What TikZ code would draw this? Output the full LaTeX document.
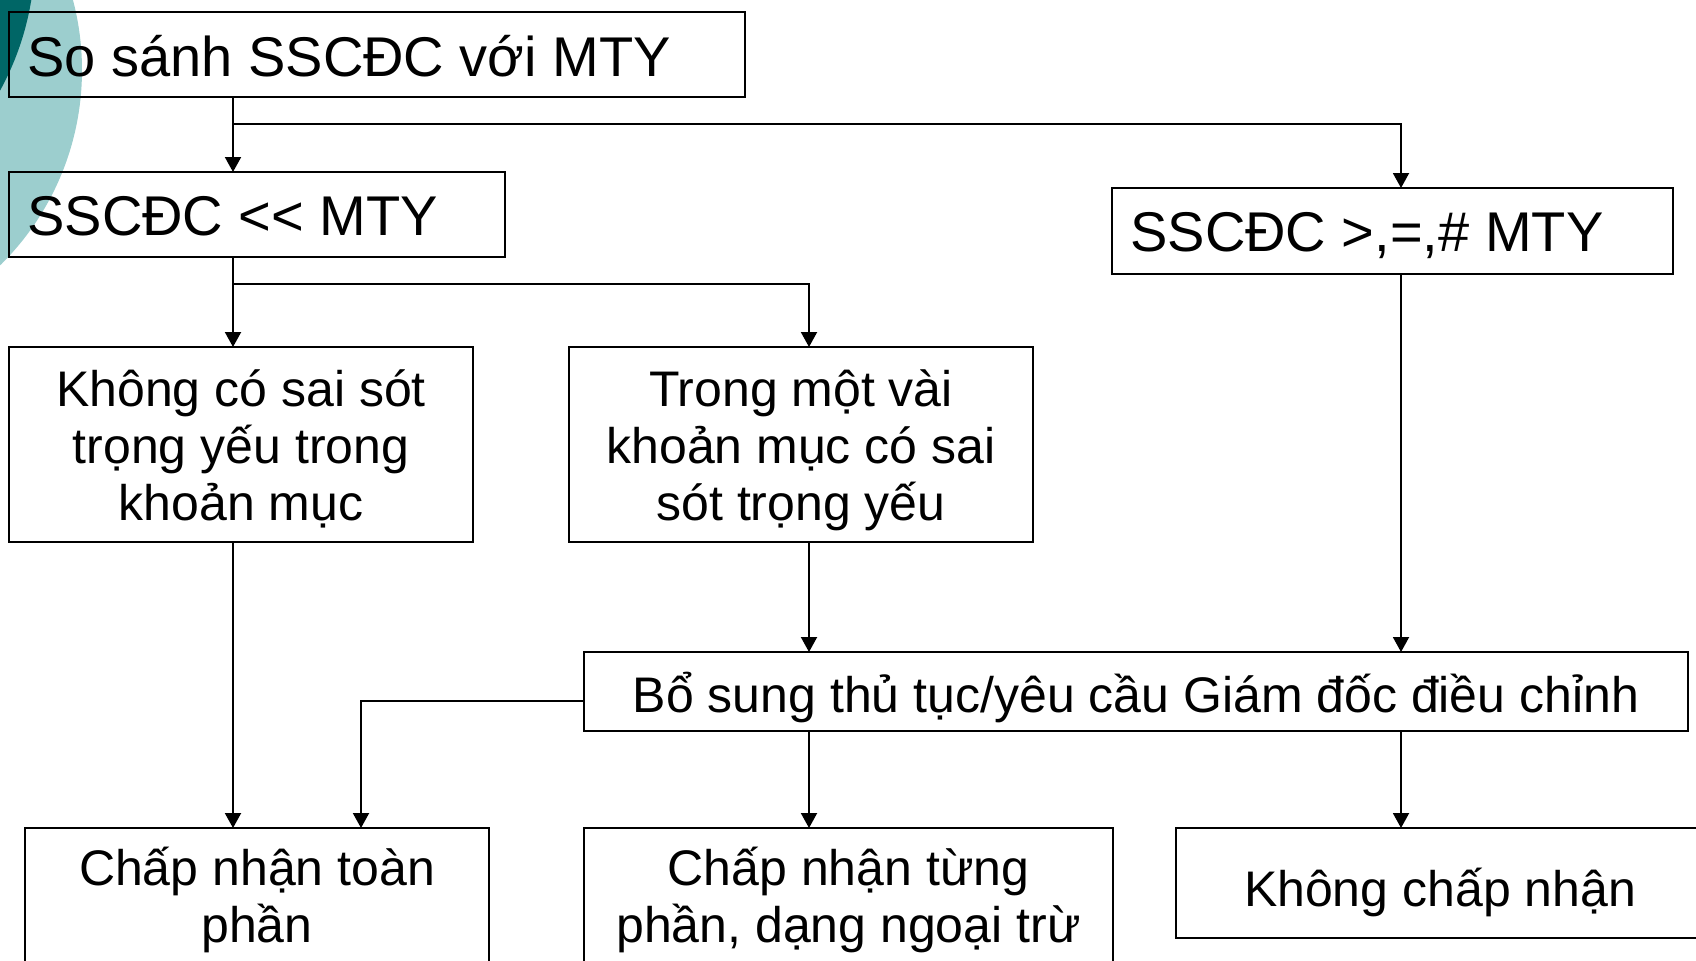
\documentclass[tikz,border=0pt]{standalone}
\usepackage{fontspec}
\setmainfont{Liberation Sans}
\usetikzlibrary{arrows.meta,calc}
\definecolor{tealLight}{RGB}{156,206,206}
\definecolor{tealDark}{RGB}{0,102,102}
\tikzset{
  box/.style={draw=black, line width=1.3pt, inner sep=0pt, outer sep=0pt, rectangle},
  arr/.style={line width=1pt, -{Triangle[width=8pt,length=7.5pt]}},
  plain/.style={line width=1pt},
  big/.style={inner sep=0pt, font=\fontsize{28pt}{33pt}\selectfont},
  mid/.style={inner sep=0pt, font=\fontsize{25pt}{29pt}\selectfont},
}
\begin{document}
\begin{tikzpicture}[x=0.5pt,y=-0.5pt]
\useasboundingbox (0,0) rectangle (1696,960);
\clip (0,0) rectangle (1696,960);
% background decoration
\fill[tealLight] (-192,70) circle[radius=137pt];
\fill[tealDark] (-249,-46) circle[radius=142pt];

% boxes
\node[box, minimum width=368pt, minimum height=42.5pt] (b1) at (377,54.5) {};
\node[box, minimum width=248pt, minimum height=42.5pt] (b2) at (257,214.5) {};
\node[box, minimum width=280.5pt, minimum height=43pt] (b3) at (1392.5,231) {};
\node[box, minimum width=232pt, minimum height=97.5pt] (b4) at (241,444.5) {};
\node[box, minimum width=232pt, minimum height=97.5pt] (b5) at (801,444.5) {};
\node[box, minimum width=552pt, minimum height=39.5pt] (b6) at (1136,691.5) {};
\node[box, minimum width=232pt, minimum height=86pt] (b7) at (257,914) {};
\node[box, minimum width=264.5pt, minimum height=86pt] (b8) at (848.5,914) {};
\node[box, minimum width=264pt, minimum height=55pt] (b9) at (1440,883) {};

% texts
\node[big, anchor=base west] (t1) at (27,76) {So sánh SSCĐC với MTY};
\node[big, anchor=base west] (t2) at (27,235) {SSCĐC <{}< MTY};
\node[big, anchor=base west] (t3) at (1130,251) {SSCĐC >,=,\# MTY};
\node[mid, anchor=base] (t4a) at (241,406) {Không có sai sót};
\node[mid, anchor=base] (t4b) at (241,463) {trọng yếu trong};
\node[mid, anchor=base] (t4c) at (241,520) {khoản mục};
\node[mid, anchor=base] (t5a) at (801,406) {Trong một vài};
\node[mid, anchor=base] (t5b) at (801,463) {khoản mục có sai};
\node[mid, anchor=base] (t5c) at (801,520) {sót trọng yếu};
\node[mid, anchor=base] (t6) at (1136,712) {Bổ sung thủ tục/yêu cầu Giám đốc điều chỉnh};
\node[mid, anchor=base] (t7a) at (257,885) {Chấp nhận toàn};
\node[mid, anchor=base] (t7b) at (257,942) {phần};
\node[mid, anchor=base] (t8a) at (848.5,885) {Chấp nhận từng};
\node[mid, anchor=base] (t8b) at (848.5,942) {phần, dạng ngoại trừ};
\node[mid, anchor=base] (t9) at (1440,906) {Không chấp nhận};

% junction coordinates
\coordinate (j1) at (233,124);
\coordinate (j2) at (233,284);
\coordinate (x3) at (1401,0);
\coordinate (x5) at (809,0);
\coordinate (k7) at (361,701);

% connectors
\draw[arr] (j1 |- b1.south) -- (j1 |- b2.north);
\draw[arr] (j1) -| (x3 |- b3.north);
\draw[arr] (j2 |- b2.south) -- (j2 |- b4.north);
\draw[arr] (j2) -| (x5 |- b5.north);
\draw[arr] (j2 |- b4.south) -- (j2 |- b7.north);
\draw[arr] (x5 |- b5.south) -- (x5 |- b6.north);
\draw[arr] (x3 |- b3.south) -- (x3 |- b6.north);
\draw[arr] (b6.west |- k7) -- (k7) -- (k7 |- b7.north);
\draw[arr] (x5 |- b6.south) -- (x5 |- b8.north);
\draw[arr] (x3 |- b6.south) -- (x3 |- b9.north);
\end{tikzpicture}
\end{document}
